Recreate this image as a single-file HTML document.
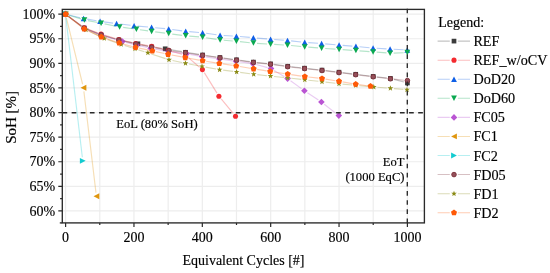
<!DOCTYPE html>
<html><head><meta charset="utf-8"><style>
html,body{margin:0;padding:0;background:#fff;}
body{width:550px;height:273px;overflow:hidden;}
svg{display:block;font-family:"Liberation Serif",serif;fill:#111;}
text{fill:#000;stroke:#000;stroke-width:0.15px;}
svg{will-change:transform;}
</style></head><body>
<svg width="550" height="273" viewBox="0 0 550 273">
<rect width="550" height="273" fill="#fff"/>
<path d="M65.60 9.40V222.90 M99.78 9.40V222.90 M133.96 9.40V222.90 M168.14 9.40V222.90 M202.32 9.40V222.90 M236.50 9.40V222.90 M270.68 9.40V222.90 M304.86 9.40V222.90 M339.04 9.40V222.90 M373.22 9.40V222.90 M407.40 9.40V222.90 M62.30 210.95H424.40 M62.30 186.35H424.40 M62.30 161.75H424.40 M62.30 137.15H424.40 M62.30 112.55H424.40 M62.30 87.95H424.40 M62.30 63.35H424.40 M62.30 38.75H424.40 M62.30 14.15H424.40" stroke="#ededed" stroke-width="1.2" fill="none"/>
<path d="M68.40 16.34L81.30 25.86M87.53 29.37L97.87 33.63M104.66 35.98L115.44 39.02M122.43 40.71L134.37 43.09M141.41 44.61L148.19 46.19M155.27 47.48L161.63 48.32M168.75 49.41L181.95 51.69M189.06 52.86L199.04 54.44M206.16 55.51L216.34 56.99M223.47 57.99L232.93 59.31M240.07 60.29L249.83 61.61M256.98 62.47L267.02 63.53M274.17 64.40L284.13 65.80M291.28 66.70L300.92 67.80M308.08 68.59L318.42 69.71M325.57 70.54L335.43 71.76M342.57 72.65L352.13 73.85M359.27 74.73L369.63 75.97M376.78 76.82L386.82 77.98M393.88 79.34L403.92 82.06" stroke="#3c3c3c" stroke-opacity="0.3" stroke-width="1.15" fill="none"/>
<rect x="63.15" y="11.85" width="4.70" height="4.70" fill="#3c3c3c"/><rect x="81.85" y="25.65" width="4.70" height="4.70" fill="#3c3c3c"/><rect x="98.85" y="32.65" width="4.70" height="4.70" fill="#3c3c3c"/><rect x="116.55" y="37.65" width="4.70" height="4.70" fill="#3c3c3c"/><rect x="135.55" y="41.45" width="4.70" height="4.70" fill="#3c3c3c"/><rect x="149.35" y="44.65" width="4.70" height="4.70" fill="#3c3c3c"/><rect x="162.85" y="46.45" width="4.70" height="4.70" fill="#3c3c3c"/><rect x="183.15" y="49.95" width="4.70" height="4.70" fill="#3c3c3c"/><rect x="200.25" y="52.65" width="4.70" height="4.70" fill="#3c3c3c"/><rect x="217.55" y="55.15" width="4.70" height="4.70" fill="#3c3c3c"/><rect x="234.15" y="57.45" width="4.70" height="4.70" fill="#3c3c3c"/><rect x="251.05" y="59.75" width="4.70" height="4.70" fill="#3c3c3c"/><rect x="268.25" y="61.55" width="4.70" height="4.70" fill="#3c3c3c"/><rect x="285.35" y="63.95" width="4.70" height="4.70" fill="#3c3c3c"/><rect x="302.15" y="65.85" width="4.70" height="4.70" fill="#3c3c3c"/><rect x="319.65" y="67.75" width="4.70" height="4.70" fill="#3c3c3c"/><rect x="336.65" y="69.85" width="4.70" height="4.70" fill="#3c3c3c"/><rect x="353.35" y="71.95" width="4.70" height="4.70" fill="#3c3c3c"/><rect x="370.85" y="74.05" width="4.70" height="4.70" fill="#3c3c3c"/><rect x="388.05" y="76.05" width="4.70" height="4.70" fill="#3c3c3c"/><rect x="405.05" y="80.65" width="4.70" height="4.70" fill="#3c3c3c"/>
<path d="M68.40 16.33L81.30 25.77M87.58 29.15L97.62 32.85M104.44 35.15L115.56 38.55M122.50 40.42L132.10 42.68M139.15 44.10L148.15 45.60M155.19 47.08L164.91 49.52M171.86 51.39L182.04 54.31M188.25 57.63L199.65 67.27M204.30 72.66L217.00 93.14M221.20 98.97L233.20 113.43" stroke="#f42a2f" stroke-opacity="0.3" stroke-width="1.15" fill="none"/>
<circle cx="65.50" cy="14.20" r="2.55" fill="#f42a2f"/><circle cx="84.20" cy="27.90" r="2.55" fill="#f42a2f"/><circle cx="101.00" cy="34.10" r="2.55" fill="#f42a2f"/><circle cx="119.00" cy="39.60" r="2.55" fill="#f42a2f"/><circle cx="135.60" cy="43.50" r="2.55" fill="#f42a2f"/><circle cx="151.70" cy="46.20" r="2.55" fill="#f42a2f"/><circle cx="168.40" cy="50.40" r="2.55" fill="#f42a2f"/><circle cx="185.50" cy="55.30" r="2.55" fill="#f42a2f"/><circle cx="202.40" cy="69.60" r="2.55" fill="#f42a2f"/><circle cx="218.90" cy="96.20" r="2.55" fill="#f42a2f"/><circle cx="235.50" cy="116.20" r="2.55" fill="#f42a2f"/>
<path d="M69.00 15.04L80.10 17.71M87.15 19.15L96.55 20.75M103.67 21.83L113.03 23.07M120.17 24.00L130.53 25.30M137.69 26.08L148.01 27.02M155.18 27.71L165.12 28.69M172.27 29.53L182.13 30.87M189.29 31.65L199.01 32.45M206.16 33.26L216.54 34.74M223.69 35.46L232.81 35.99M239.99 36.53L249.81 37.42M256.99 38.06L267.01 38.94M274.19 39.53L283.91 40.27M291.08 40.92L301.12 41.98M308.29 42.60L318.01 43.30M325.19 43.86L335.51 44.74M342.69 45.33L352.31 46.07M359.48 46.70L369.52 47.70M376.69 48.26L386.51 48.84M393.69 49.25L403.71 49.80" stroke="#0f5fe6" stroke-opacity="0.3" stroke-width="1.15" fill="none"/>
<polygon points="65.50,11.45 62.60,16.95 68.40,16.95" fill="#0f5fe6"/><polygon points="83.60,15.80 80.70,21.30 86.50,21.30" fill="#0f5fe6"/><polygon points="100.10,18.60 97.20,24.11 103.00,24.11" fill="#0f5fe6"/><polygon points="116.60,20.80 113.70,26.30 119.50,26.30" fill="#0f5fe6"/><polygon points="134.10,23.00 131.20,28.50 137.00,28.50" fill="#0f5fe6"/><polygon points="151.60,24.60 148.70,30.11 154.50,30.11" fill="#0f5fe6"/><polygon points="168.70,26.30 165.80,31.80 171.60,31.80" fill="#0f5fe6"/><polygon points="185.70,28.60 182.80,34.11 188.60,34.11" fill="#0f5fe6"/><polygon points="202.60,30.00 199.70,35.51 205.50,35.51" fill="#0f5fe6"/><polygon points="220.10,32.49 217.20,38.01 223.00,38.01" fill="#0f5fe6"/><polygon points="236.40,33.45 233.50,38.96 239.30,38.96" fill="#0f5fe6"/><polygon points="253.40,34.99 250.50,40.51 256.30,40.51" fill="#0f5fe6"/><polygon points="270.60,36.49 267.70,42.01 273.50,42.01" fill="#0f5fe6"/><polygon points="287.50,37.79 284.60,43.30 290.40,43.30" fill="#0f5fe6"/><polygon points="304.70,39.59 301.80,45.11 307.60,45.11" fill="#0f5fe6"/><polygon points="321.60,40.79 318.70,46.30 324.50,46.30" fill="#0f5fe6"/><polygon points="339.10,42.29 336.20,47.80 342.00,47.80" fill="#0f5fe6"/><polygon points="355.90,43.59 353.00,49.11 358.80,49.11" fill="#0f5fe6"/><polygon points="373.10,45.29 370.20,50.80 376.00,50.80" fill="#0f5fe6"/><polygon points="390.10,46.29 387.20,51.80 393.00,51.80" fill="#0f5fe6"/><polygon points="407.30,47.24 404.40,52.76 410.20,52.76" fill="#0f5fe6"/>
<path d="M68.95 15.24L80.95 18.86M87.93 20.60L97.57 22.50M104.63 23.91L116.07 26.19M123.17 27.39L132.83 28.71M139.96 29.72L148.04 30.88M155.17 31.86L165.13 33.14M172.27 34.06L182.13 35.34M189.29 36.10L199.01 36.90M206.16 37.75L216.54 39.35M223.69 40.21L232.81 40.99M239.98 41.68L249.82 42.72M256.99 43.33L267.01 43.97M274.19 44.41L283.91 44.99M291.08 45.55L301.12 46.55M308.29 47.18L318.01 47.92M325.19 48.45L335.51 49.15M342.69 49.66L352.31 50.34M359.49 50.87L369.51 51.63M376.69 52.17L386.51 52.93M393.70 53.07L403.70 52.73" stroke="#0aa850" stroke-opacity="0.3" stroke-width="1.15" fill="none"/>
<polygon points="65.50,16.95 62.60,11.45 68.40,11.45" fill="#0aa850"/><polygon points="84.40,22.65 81.50,17.14 87.30,17.14" fill="#0aa850"/><polygon points="101.10,25.95 98.20,20.45 104.00,20.45" fill="#0aa850"/><polygon points="119.60,29.65 116.70,24.14 122.50,24.14" fill="#0aa850"/><polygon points="136.40,31.95 133.50,26.45 139.30,26.45" fill="#0aa850"/><polygon points="151.60,34.16 148.70,28.64 154.50,28.64" fill="#0aa850"/><polygon points="168.70,36.36 165.80,30.85 171.60,30.85" fill="#0aa850"/><polygon points="185.70,38.55 182.80,33.04 188.60,33.04" fill="#0aa850"/><polygon points="202.60,39.96 199.70,34.45 205.50,34.45" fill="#0aa850"/><polygon points="220.10,42.66 217.20,37.14 223.00,37.14" fill="#0aa850"/><polygon points="236.40,44.05 233.50,38.54 239.30,38.54" fill="#0aa850"/><polygon points="253.40,45.86 250.50,40.34 256.30,40.34" fill="#0aa850"/><polygon points="270.60,46.96 267.70,41.45 273.50,41.45" fill="#0aa850"/><polygon points="287.50,47.96 284.60,42.45 290.40,42.45" fill="#0aa850"/><polygon points="304.70,49.66 301.80,44.14 307.60,44.14" fill="#0aa850"/><polygon points="321.60,50.96 318.70,45.45 324.50,45.45" fill="#0aa850"/><polygon points="339.10,52.16 336.20,46.64 342.00,46.64" fill="#0aa850"/><polygon points="355.90,53.36 353.00,47.84 358.80,47.84" fill="#0aa850"/><polygon points="373.10,54.66 370.20,49.14 376.00,49.14" fill="#0aa850"/><polygon points="390.10,55.96 387.20,50.45 393.00,50.45" fill="#0aa850"/><polygon points="407.30,55.36 404.40,49.84 410.20,49.84" fill="#0aa850"/>
<path d="M68.36 16.38L81.54 26.42M87.75 29.92L98.25 34.08M105.05 36.43L118.95 40.57M125.90 42.44L133.00 44.16M140.01 45.82L147.09 47.48M154.14 48.96L164.86 50.94M171.97 52.03L183.03 53.37M190.15 54.42L198.45 55.88M205.56 57.01L215.84 58.49M222.97 59.49L232.43 60.81M239.57 61.79L249.23 63.11M256.27 64.55L267.53 67.65M274.08 70.46L284.52 76.74M290.52 80.70L301.48 88.60M307.40 92.69L318.40 100.01M324.24 104.22L335.96 113.38" stroke="#ba55d3" stroke-opacity="0.3" stroke-width="1.15" fill="none"/>
<polygon points="65.50,10.90 68.80,14.20 65.50,17.50 62.20,14.20" fill="#ba55d3"/><polygon points="84.40,25.30 87.70,28.60 84.40,31.90 81.10,28.60" fill="#ba55d3"/><polygon points="101.60,32.10 104.90,35.40 101.60,38.70 98.30,35.40" fill="#ba55d3"/><polygon points="122.40,38.30 125.70,41.60 122.40,44.90 119.10,41.60" fill="#ba55d3"/><polygon points="136.50,41.70 139.80,45.00 136.50,48.30 133.20,45.00" fill="#ba55d3"/><polygon points="150.60,45.00 153.90,48.30 150.60,51.60 147.30,48.30" fill="#ba55d3"/><polygon points="168.40,48.30 171.70,51.60 168.40,54.90 165.10,51.60" fill="#ba55d3"/><polygon points="186.60,50.50 189.90,53.80 186.60,57.10 183.30,53.80" fill="#ba55d3"/><polygon points="202.00,53.20 205.30,56.50 202.00,59.80 198.70,56.50" fill="#ba55d3"/><polygon points="219.40,55.70 222.70,59.00 219.40,62.30 216.10,59.00" fill="#ba55d3"/><polygon points="236.00,58.00 239.30,61.30 236.00,64.60 232.70,61.30" fill="#ba55d3"/><polygon points="252.80,60.30 256.10,63.60 252.80,66.90 249.50,63.60" fill="#ba55d3"/><polygon points="271.00,65.30 274.30,68.60 271.00,71.90 267.70,68.60" fill="#ba55d3"/><polygon points="287.60,75.30 290.90,78.60 287.60,81.90 284.30,78.60" fill="#ba55d3"/><polygon points="304.40,87.40 307.70,90.70 304.40,94.00 301.10,90.70" fill="#ba55d3"/><polygon points="321.40,98.70 324.70,102.00 321.40,105.30 318.10,102.00" fill="#ba55d3"/><polygon points="338.80,112.30 342.10,115.60 338.80,118.90 335.50,115.60" fill="#ba55d3"/>
<path d="M66.35 17.70L82.60 84.25M83.88 91.32L95.97 192.68" stroke="#e0960e" stroke-opacity="0.3" stroke-width="1.15" fill="none"/>
<polygon points="62.60,14.20 68.40,11.30 68.40,17.10" fill="#e0960e"/><polygon points="80.55,87.75 86.35,84.85 86.35,90.65" fill="#e0960e"/><polygon points="93.50,196.25 99.30,193.35 99.30,199.15" fill="#e0960e"/>
<path d="M65.92 17.78L82.33 157.22" stroke="#12cbd0" stroke-opacity="0.3" stroke-width="1.15" fill="none"/>
<polygon points="68.40,14.20 62.60,11.30 62.60,17.10" fill="#12cbd0"/><polygon points="85.65,160.80 79.85,157.90 79.85,163.70" fill="#12cbd0"/>
<path d="M68.38 16.36L81.32 26.04M87.55 29.51L97.75 33.49M104.56 35.81L115.44 38.99M122.40 40.83L132.30 43.17M139.33 44.71L148.17 46.49M155.24 47.87L165.46 49.83M172.57 50.98L181.93 52.22M189.06 53.26L199.04 54.84M206.16 55.91L216.44 57.39M223.57 58.39L233.03 59.71M240.17 60.69L249.83 62.01M256.98 62.88L266.92 63.92M274.07 64.80L284.13 66.20M291.28 67.10L301.02 68.20M308.18 68.99L318.42 70.11M325.57 70.94L335.43 72.16M342.57 73.05L352.13 74.25M359.27 75.13L369.63 76.37M376.78 77.22L386.82 78.38M393.98 79.18L403.82 80.22" stroke="#7a2e38" stroke-opacity="0.3" stroke-width="1.15" fill="none"/>
<circle cx="65.50" cy="14.20" r="2.30" fill="#94505a" stroke="#7a2e38" stroke-width="0.9"/><circle cx="84.20" cy="28.20" r="2.30" fill="#94505a" stroke="#7a2e38" stroke-width="0.9"/><circle cx="101.10" cy="34.80" r="2.30" fill="#94505a" stroke="#7a2e38" stroke-width="0.9"/><circle cx="118.90" cy="40.00" r="2.30" fill="#94505a" stroke="#7a2e38" stroke-width="0.9"/><circle cx="135.80" cy="44.00" r="2.30" fill="#94505a" stroke="#7a2e38" stroke-width="0.9"/><circle cx="151.70" cy="47.20" r="2.30" fill="#94505a" stroke="#7a2e38" stroke-width="0.9"/><circle cx="169.00" cy="50.50" r="2.30" fill="#94505a" stroke="#7a2e38" stroke-width="0.9"/><circle cx="185.50" cy="52.70" r="2.30" fill="#94505a" stroke="#7a2e38" stroke-width="0.9"/><circle cx="202.60" cy="55.40" r="2.30" fill="#94505a" stroke="#7a2e38" stroke-width="0.9"/><circle cx="220.00" cy="57.90" r="2.30" fill="#94505a" stroke="#7a2e38" stroke-width="0.9"/><circle cx="236.60" cy="60.20" r="2.30" fill="#94505a" stroke="#7a2e38" stroke-width="0.9"/><circle cx="253.40" cy="62.50" r="2.30" fill="#94505a" stroke="#7a2e38" stroke-width="0.9"/><circle cx="270.50" cy="64.30" r="2.30" fill="#94505a" stroke="#7a2e38" stroke-width="0.9"/><circle cx="287.70" cy="66.70" r="2.30" fill="#94505a" stroke="#7a2e38" stroke-width="0.9"/><circle cx="304.60" cy="68.60" r="2.30" fill="#94505a" stroke="#7a2e38" stroke-width="0.9"/><circle cx="322.00" cy="70.50" r="2.30" fill="#94505a" stroke="#7a2e38" stroke-width="0.9"/><circle cx="339.00" cy="72.60" r="2.30" fill="#94505a" stroke="#7a2e38" stroke-width="0.9"/><circle cx="355.70" cy="74.70" r="2.30" fill="#94505a" stroke="#7a2e38" stroke-width="0.9"/><circle cx="373.20" cy="76.80" r="2.30" fill="#94505a" stroke="#7a2e38" stroke-width="0.9"/><circle cx="390.40" cy="78.80" r="2.30" fill="#94505a" stroke="#7a2e38" stroke-width="0.9"/><circle cx="407.40" cy="80.60" r="2.30" fill="#94505a" stroke="#7a2e38" stroke-width="0.9"/>
<path d="M68.36 16.38L83.14 27.62M89.26 31.33L101.04 36.87M107.69 39.60L117.81 43.20M124.63 45.49L131.57 47.71M138.44 49.87L144.46 51.73M151.32 53.93L165.58 58.67M172.52 60.55L181.98 62.55M189.04 63.96L198.46 65.74M205.54 67.06L216.06 69.04M223.17 70.16L233.03 71.44M240.17 72.38L250.13 73.72M257.28 74.60L266.92 75.70M274.08 76.47L284.12 77.53M291.28 78.30L301.22 79.40M308.38 80.20L318.42 81.30M325.58 82.12L335.42 83.28M342.58 84.06L352.12 85.04M359.29 85.72L370.21 86.68M377.39 87.28L386.81 88.02M393.99 88.60L403.41 89.40" stroke="#8a8a14" stroke-opacity="0.3" stroke-width="1.15" fill="none"/>
<polygon points="65.50,11.20 64.76,13.18 62.65,13.27 64.30,14.59 63.74,16.63 65.50,15.46 67.26,16.63 66.70,14.59 68.35,13.27 66.24,13.18" fill="#8a8a14"/><polygon points="86.00,26.80 85.26,28.78 83.15,28.87 84.80,30.19 84.24,32.23 86.00,31.06 87.76,32.23 87.20,30.19 88.85,28.87 86.74,28.78" fill="#8a8a14"/><polygon points="104.30,35.40 103.56,37.38 101.45,37.47 103.10,38.79 102.54,40.83 104.30,39.66 106.06,40.83 105.50,38.79 107.15,37.47 105.04,37.38" fill="#8a8a14"/><polygon points="121.20,41.40 120.46,43.38 118.35,43.47 120.00,44.79 119.44,46.83 121.20,45.66 122.96,46.83 122.40,44.79 124.05,43.47 121.94,43.38" fill="#8a8a14"/><polygon points="135.00,45.80 134.26,47.78 132.15,47.87 133.80,49.19 133.24,51.23 135.00,50.06 136.76,51.23 136.20,49.19 137.85,47.87 135.74,47.78" fill="#8a8a14"/><polygon points="147.90,49.80 147.16,51.78 145.05,51.87 146.70,53.19 146.14,55.23 147.90,54.06 149.66,55.23 149.10,53.19 150.75,51.87 148.64,51.78" fill="#8a8a14"/><polygon points="169.00,56.80 168.26,58.78 166.15,58.87 167.80,60.19 167.24,62.23 169.00,61.06 170.76,62.23 170.20,60.19 171.85,58.87 169.74,58.78" fill="#8a8a14"/><polygon points="185.50,60.30 184.76,62.28 182.65,62.37 184.30,63.69 183.74,65.73 185.50,64.56 187.26,65.73 186.70,63.69 188.35,62.37 186.24,62.28" fill="#8a8a14"/><polygon points="202.00,63.40 201.26,65.38 199.15,65.47 200.80,66.79 200.24,68.83 202.00,67.66 203.76,68.83 203.20,66.79 204.85,65.47 202.74,65.38" fill="#8a8a14"/><polygon points="219.60,66.70 218.86,68.68 216.75,68.77 218.40,70.09 217.84,72.13 219.60,70.96 221.36,72.13 220.80,70.09 222.45,68.77 220.34,68.68" fill="#8a8a14"/><polygon points="236.60,68.90 235.86,70.88 233.75,70.97 235.40,72.29 234.84,74.33 236.60,73.16 238.36,74.33 237.80,72.29 239.45,70.97 237.34,70.88" fill="#8a8a14"/><polygon points="253.70,71.20 252.96,73.18 250.85,73.27 252.50,74.59 251.94,76.63 253.70,75.46 255.46,76.63 254.90,74.59 256.55,73.27 254.44,73.18" fill="#8a8a14"/><polygon points="270.50,73.10 269.76,75.08 267.65,75.17 269.30,76.49 268.74,78.53 270.50,77.36 272.26,78.53 271.70,76.49 273.35,75.17 271.24,75.08" fill="#8a8a14"/><polygon points="287.70,74.90 286.96,76.88 284.85,76.97 286.50,78.29 285.94,80.33 287.70,79.16 289.46,80.33 288.90,78.29 290.55,76.97 288.44,76.88" fill="#8a8a14"/><polygon points="304.80,76.80 304.06,78.78 301.95,78.87 303.60,80.19 303.04,82.23 304.80,81.06 306.56,82.23 306.00,80.19 307.65,78.87 305.54,78.78" fill="#8a8a14"/><polygon points="322.00,78.70 321.26,80.68 319.15,80.77 320.80,82.09 320.24,84.13 322.00,82.96 323.76,84.13 323.20,82.09 324.85,80.77 322.74,80.68" fill="#8a8a14"/><polygon points="339.00,80.70 338.26,82.68 336.15,82.77 337.80,84.09 337.24,86.13 339.00,84.96 340.76,86.13 340.20,84.09 341.85,82.77 339.74,82.68" fill="#8a8a14"/><polygon points="355.70,82.40 354.96,84.38 352.85,84.47 354.50,85.79 353.94,87.83 355.70,86.66 357.46,87.83 356.90,85.79 358.55,84.47 356.44,84.38" fill="#8a8a14"/><polygon points="373.80,84.00 373.06,85.98 370.95,86.07 372.60,87.39 372.04,89.43 373.80,88.26 375.56,89.43 375.00,87.39 376.65,86.07 374.54,85.98" fill="#8a8a14"/><polygon points="390.40,85.30 389.66,87.28 387.55,87.37 389.20,88.69 388.64,90.73 390.40,89.56 392.16,90.73 391.60,88.69 393.25,87.37 391.14,87.28" fill="#8a8a14"/><polygon points="407.00,86.70 406.26,88.68 404.15,88.77 405.80,90.09 405.24,92.13 407.00,90.96 408.76,92.13 408.20,90.09 409.85,88.77 407.74,88.68" fill="#8a8a14"/>
<path d="M68.42 16.53L81.38 26.77M87.47 30.51L98.03 35.39M104.71 38.06L115.79 41.84M122.68 43.93L132.12 46.47M139.12 48.14L148.78 50.16M155.82 51.66L164.58 53.54M171.64 54.98L181.76 56.92M188.84 58.23L199.06 60.07M206.15 61.27L215.75 62.83M222.86 63.93L232.64 65.37M239.75 66.49L250.05 68.21M257.16 69.36L266.64 70.84M273.76 71.95L284.14 73.55M291.26 74.62L301.24 76.08M308.38 77.02L318.42 78.18M325.56 79.16L335.44 80.74M342.55 81.92L352.15 83.58M359.27 84.68L366.93 85.72" stroke="#ff5a08" stroke-opacity="0.3" stroke-width="1.15" fill="none"/>
<polygon points="65.60,11.10 62.56,13.31 63.72,16.89 67.48,16.89 68.64,13.31" fill="#ff5a08"/><polygon points="84.20,25.80 81.16,28.01 82.32,31.59 86.08,31.59 87.24,28.01" fill="#ff5a08"/><polygon points="101.30,33.70 98.26,35.91 99.42,39.49 103.18,39.49 104.34,35.91" fill="#ff5a08"/><polygon points="119.20,39.80 116.16,42.01 117.32,45.59 121.08,45.59 122.24,42.01" fill="#ff5a08"/><polygon points="135.60,44.20 132.56,46.41 133.72,49.99 137.48,49.99 138.64,46.41" fill="#ff5a08"/><polygon points="152.30,47.70 149.26,49.91 150.42,53.49 154.18,53.49 155.34,49.91" fill="#ff5a08"/><polygon points="168.10,51.10 165.06,53.31 166.22,56.89 169.98,56.89 171.14,53.31" fill="#ff5a08"/><polygon points="185.30,54.40 182.26,56.61 183.42,60.19 187.18,60.19 188.34,56.61" fill="#ff5a08"/><polygon points="202.60,57.50 199.56,59.71 200.72,63.29 204.48,63.29 205.64,59.71" fill="#ff5a08"/><polygon points="219.30,60.20 216.26,62.41 217.42,65.99 221.18,65.99 222.34,62.41" fill="#ff5a08"/><polygon points="236.20,62.70 233.16,64.91 234.32,68.49 238.08,68.49 239.24,64.91" fill="#ff5a08"/><polygon points="253.60,65.60 250.56,67.81 251.72,71.39 255.48,71.39 256.64,67.81" fill="#ff5a08"/><polygon points="270.20,68.20 267.16,70.41 268.32,73.99 272.08,73.99 273.24,70.41" fill="#ff5a08"/><polygon points="287.70,70.90 284.66,73.11 285.82,76.69 289.58,76.69 290.74,73.11" fill="#ff5a08"/><polygon points="304.80,73.40 301.76,75.61 302.92,79.19 306.68,79.19 307.84,75.61" fill="#ff5a08"/><polygon points="322.00,75.40 318.96,77.61 320.12,81.19 323.88,81.19 325.04,77.61" fill="#ff5a08"/><polygon points="339.00,78.10 335.96,80.31 337.12,83.89 340.88,83.89 342.04,80.31" fill="#ff5a08"/><polygon points="355.70,81.00 352.66,83.21 353.82,86.79 357.58,86.79 358.74,83.21" fill="#ff5a08"/><polygon points="370.50,83.00 367.46,85.21 368.62,88.79 372.38,88.79 373.54,85.21" fill="#ff5a08"/>
<path d="M62.5 112.7H424.40" stroke="#2a2a2a" stroke-width="1.35" stroke-dasharray="4.7 4.42" fill="none"/>
<path d="M407.3 8.63V222.90" stroke="#2a2a2a" stroke-width="1.35" stroke-dasharray="4.7 4.42" fill="none"/>
<text x="157" y="127.6" font-size="12.6" text-anchor="middle">EoL (80% SoH)</text>
<text x="404.5" y="166.2" font-size="12.6" text-anchor="end">EoT</text>
<text x="404.5" y="180.7" font-size="12.6" text-anchor="end">(1000 EqC)</text>
<path d="M65.60 222.90v4 M99.78 222.90v2.2 M133.96 222.90v4 M168.14 222.90v2.2 M202.32 222.90v4 M236.50 222.90v2.2 M270.68 222.90v4 M304.86 222.90v2.2 M339.04 222.90v4 M373.22 222.90v2.2 M407.40 222.90v4 M62.30 210.95h-4 M62.30 198.65h-2.2 M62.30 186.35h-4 M62.30 174.05h-2.2 M62.30 161.75h-4 M62.30 149.45h-2.2 M62.30 137.15h-4 M62.30 124.85h-2.2 M62.30 112.55h-4 M62.30 100.25h-2.2 M62.30 87.95h-4 M62.30 75.65h-2.2 M62.30 63.35h-4 M62.30 51.05h-2.2 M62.30 38.75h-4 M62.30 26.45h-2.2 M62.30 14.15h-4" stroke="#2a2a2a" stroke-width="1.2" fill="none"/>
<rect x="62.30" y="9.40" width="362.10" height="213.50" stroke="#2a2a2a" stroke-width="1.35" fill="none"/>
<path d="M59.8 222.90H62.30" stroke="#2a2a2a" stroke-width="1.35"/>
<text x="65.60" y="242" font-size="14" text-anchor="middle">0</text>
<text x="133.96" y="242" font-size="14" text-anchor="middle">200</text>
<text x="202.32" y="242" font-size="14" text-anchor="middle">400</text>
<text x="270.68" y="242" font-size="14" text-anchor="middle">600</text>
<text x="339.04" y="242" font-size="14" text-anchor="middle">800</text>
<text x="407.40" y="242" font-size="14" text-anchor="middle">1000</text>
<text x="55.2" y="215.65" font-size="14" text-anchor="end">60%</text>
<text x="55.2" y="191.05" font-size="14" text-anchor="end">65%</text>
<text x="55.2" y="166.45" font-size="14" text-anchor="end">70%</text>
<text x="55.2" y="141.85" font-size="14" text-anchor="end">75%</text>
<text x="55.2" y="117.25" font-size="14" text-anchor="end">80%</text>
<text x="55.2" y="92.65" font-size="14" text-anchor="end">85%</text>
<text x="55.2" y="68.05" font-size="14" text-anchor="end">90%</text>
<text x="55.2" y="43.45" font-size="14" text-anchor="end">95%</text>
<text x="55.2" y="18.85" font-size="14" text-anchor="end">100%</text>
<text x="243.5" y="265.4" font-size="14" text-anchor="middle">Equivalent Cycles [#]</text>
<text transform="translate(16.3 117.4) rotate(-90)" font-size="15" text-anchor="middle">SoH [%]</text>
<text x="438.3" y="26.6" font-size="14">Legend:</text>
<path d="M437.6 41.10H449.8M457.9 41.10H470" stroke="#3c3c3c" stroke-opacity="0.3" stroke-width="1.05"/>
<rect x="451.65" y="38.75" width="4.70" height="4.70" fill="#3c3c3c"/>
<text x="473.4" y="46.10" font-size="14.2">REF</text>
<path d="M437.6 60.17H449.8M457.9 60.17H470" stroke="#f42a2f" stroke-opacity="0.3" stroke-width="1.05"/>
<circle cx="454.00" cy="60.17" r="2.55" fill="#f42a2f"/>
<text x="473.4" y="65.17" font-size="14.2">REF_w/oCV</text>
<path d="M437.6 79.24H449.8M457.9 79.24H470" stroke="#0f5fe6" stroke-opacity="0.3" stroke-width="1.05"/>
<polygon points="454.00,76.49 451.10,82.00 456.90,82.00" fill="#0f5fe6"/>
<text x="473.4" y="84.24" font-size="14.2">DoD20</text>
<path d="M437.6 98.31H449.8M457.9 98.31H470" stroke="#0aa850" stroke-opacity="0.3" stroke-width="1.05"/>
<polygon points="454.00,101.06 451.10,95.56 456.90,95.56" fill="#0aa850"/>
<text x="473.4" y="103.31" font-size="14.2">DoD60</text>
<path d="M437.6 117.38H449.8M457.9 117.38H470" stroke="#ba55d3" stroke-opacity="0.3" stroke-width="1.05"/>
<polygon points="454.00,114.08 457.30,117.38 454.00,120.68 450.70,117.38" fill="#ba55d3"/>
<text x="473.4" y="122.38" font-size="14.2">FC05</text>
<path d="M437.6 136.45H449.8M457.9 136.45H470" stroke="#e0960e" stroke-opacity="0.3" stroke-width="1.05"/>
<polygon points="451.10,136.45 456.90,133.55 456.90,139.35" fill="#e0960e"/>
<text x="473.4" y="141.45" font-size="14.2">FC1</text>
<path d="M437.6 155.52H449.8M457.9 155.52H470" stroke="#12cbd0" stroke-opacity="0.3" stroke-width="1.05"/>
<polygon points="456.90,155.52 451.10,152.62 451.10,158.42" fill="#12cbd0"/>
<text x="473.4" y="160.52" font-size="14.2">FC2</text>
<path d="M437.6 174.59H449.8M457.9 174.59H470" stroke="#7a2e38" stroke-opacity="0.3" stroke-width="1.05"/>
<circle cx="454.00" cy="174.59" r="2.30" fill="#94505a" stroke="#7a2e38" stroke-width="0.9"/>
<text x="473.4" y="179.59" font-size="14.2">FD05</text>
<path d="M437.6 193.66H449.8M457.9 193.66H470" stroke="#8a8a14" stroke-opacity="0.3" stroke-width="1.05"/>
<polygon points="454.00,190.66 453.26,192.64 451.15,192.73 452.80,194.05 452.24,196.09 454.00,194.92 455.76,196.09 455.20,194.05 456.85,192.73 454.74,192.64" fill="#8a8a14"/>
<text x="473.4" y="198.66" font-size="14.2">FD1</text>
<path d="M437.6 212.73H449.8M457.9 212.73H470" stroke="#ff5a08" stroke-opacity="0.3" stroke-width="1.05"/>
<polygon points="454.00,209.53 450.96,211.74 452.12,215.32 455.88,215.32 457.04,211.74" fill="#ff5a08"/>
<text x="473.4" y="217.73" font-size="14.2">FD2</text>
</svg>
</body></html>
